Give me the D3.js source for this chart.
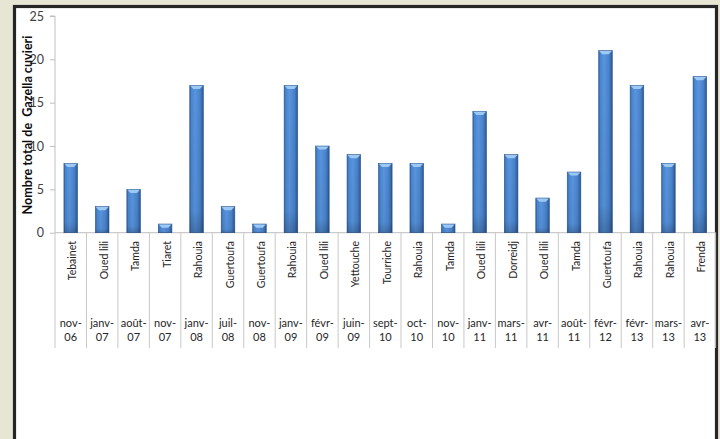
<!DOCTYPE html>
<html>
<head>
<meta charset="utf-8">
<script src="https://cdn.jsdelivr.net/npm/d3@7"></script>
<style>
  html, body { margin: 0; padding: 0; background: #e7e5d3; }
  svg { display: block; }
</style>
</head>
<body>
<svg id="chart" width="720" height="439"></svg>
<script>
// Gazella cuvieri sightings: site and month of each observation
const sites = ["Tebainet", "Oued lili", "Tamda", "Tiaret", "Rahouia", "Guertoufa", "Guertoufa",
  "Rahouia", "Oued lili", "Yettouche", "Tourriche", "Rahouia", "Tamda", "Oued lili", "Dorreidj",
  "Oued lili", "Tamda", "Guertoufa", "Rahouia", "Rahouia", "Frenda"];
const months = ["nov-", "janv-", "août-", "nov-", "janv-", "juil-", "nov-", "janv-", "févr-", "juin-",
  "sept-", "oct-", "nov-", "janv-", "mars-", "avr-", "août-", "févr-", "févr-", "mars-", "avr-"];
const years = ["06", "07", "07", "07", "08", "08", "08", "09", "09", "09",
  "10", "10", "10", "11", "11", "11", "11", "12", "13", "13", "13"];
const counts = [8, 3, 5, 1, 17, 3, 1, 17, 10, 9, 8, 8, 1, 14, 9, 4, 7, 21, 17, 8, 18];
const yTicks = [0, 5, 10, 15, 20, 25];
const yTitle = "Nombre total de  Gazella cuvieri";

(function () {
const svg = d3.select("#chart");
const font = "Lato, 'Open Sans', sans-serif";

// white panel with dark frame
svg.append("rect")
  .attr("x", 14.5).attr("y", 6.5)
  .attr("width", 702).attr("height", 460)
  .attr("fill", "#ffffff")
  .attr("stroke", "#262626").attr("stroke-width", 3.2);

const plotLeft = 55, plotRight = 715.6, plotTop = 16, base = 232.7, divBottom = 348;
const keys = d3.range(counts.length);

const x = d3.scaleBand().domain(keys).range([plotLeft, plotRight]).paddingInner(0).paddingOuter(0);
const y = d3.scaleLinear().domain([0, 25]).range([base, plotTop]);

const defs = svg.append("defs");
const grad = defs.append("linearGradient").attr("id", "barGrad")
  .attr("x1", "0").attr("x2", "1").attr("y1", "0").attr("y2", "0");
[["0%", "#2f62a3"], ["12%", "#4a85cf"], ["40%", "#5895de"], ["75%", "#4a82cb"], ["92%", "#3567a8"], ["100%", "#264f85"]]
  .forEach(([o, c]) => grad.append("stop").attr("offset", o).attr("stop-color", c));
const vgrad = defs.append("linearGradient").attr("id", "barShade")
  .attr("x1", "0").attr("x2", "0").attr("y1", "0").attr("y2", "1");
[["0%", "#000", 0], ["85%", "#000", 0.05], ["100%", "#000", 0.22]]
  .forEach(([o, c, a]) => vgrad.append("stop").attr("offset", o).attr("stop-color", c).attr("stop-opacity", a));

// y axis
const yAxis = d3.axisLeft(y).tickValues(yTicks).tickSize(5).tickPadding(6);
const gy = svg.append("g").attr("transform", `translate(${plotLeft},0)`).call(yAxis);
gy.select(".domain").attr("stroke", "#bfbfbf").attr("d", `M-5,${plotTop}H0V${base}`);
gy.selectAll(".tick line").attr("stroke", "#bfbfbf");
gy.selectAll(".tick text").attr("font-family", font).attr("font-size", 12.5).attr("fill", "#404040");

// x axis: baseline plus vertical category dividers
svg.append("line").attr("x1", plotLeft).attr("x2", plotRight).attr("y1", base).attr("y2", base)
  .attr("stroke", "#bfbfbf");
const bounds = keys.map(k => x(k)).concat([plotRight]);
svg.append("g").selectAll("line").data(bounds).join("line")
  .attr("x1", d => d).attr("x2", d => d)
  .attr("y1", base).attr("y2", divBottom)
  .attr("stroke", "#c8c8c8").attr("stroke-width", 1);

// bars
const bw = 13.6;
const bars = svg.append("g").selectAll("g").data(keys).join("g");
bars.append("rect")
  .attr("x", k => x(k) + x.bandwidth() / 2 - bw / 2)
  .attr("y", k => y(counts[k]))
  .attr("width", bw)
  .attr("height", k => base - y(counts[k]))
  .attr("fill", "url(#barGrad)")
  .attr("stroke", "#2c5990").attr("stroke-width", 0.6);
bars.append("rect")
  .attr("x", k => x(k) + x.bandwidth() / 2 - bw / 2)
  .attr("y", k => y(counts[k]))
  .attr("width", bw)
  .attr("height", k => base - y(counts[k]))
  .attr("fill", "url(#barShade)");
// light bevel on the top of each bar
bars.append("path")
  .attr("d", k => {
    const x0 = x(k) + x.bandwidth() / 2 - bw / 2, x1 = x0 + bw, t = y(counts[k]);
    return `M${x0 + 0.5},${t + 0.4}L${x1 - 0.5},${t + 0.4}L${x1 - 3.5},${t + 3.6}L${x0 + 3.5},${t + 3.6}Z`;
  })
  .attr("fill", "#9cc9f3");

// category labels: site (rotated) and month/year
const lab = svg.append("g").attr("font-family", font).attr("fill", "#262626");
lab.selectAll("text.site").data(keys).join("text").attr("class", "site")
  .attr("transform", k => `translate(${x(k) + x.bandwidth() / 2 + 5.5},241) rotate(-90)`)
  .attr("text-anchor", "end")
  .attr("font-size", 10.5)
  .text(k => sites[k]);
lab.selectAll("text.month").data(keys).join("text").attr("class", "month")
  .attr("x", k => x(k) + x.bandwidth() / 2).attr("y", 327)
  .attr("text-anchor", "middle").attr("font-size", 11)
  .text(k => months[k]);
lab.selectAll("text.year").data(keys).join("text").attr("class", "year")
  .attr("x", k => x(k) + x.bandwidth() / 2).attr("y", 340.5)
  .attr("text-anchor", "middle").attr("font-size", 11)
  .text(k => years[k]);

// y axis title
svg.append("text")
  .attr("transform", `translate(31.5,125) rotate(-90)`)
  .attr("text-anchor", "middle")
  .attr("font-family", font).attr("font-weight", "bold").attr("font-size", 12.6)
  .attr("fill", "#0d0d0d")
  .attr("xml:space", "preserve")
  .style("white-space", "pre")
  .text(yTitle);
})();
</script>
</body>
</html>
